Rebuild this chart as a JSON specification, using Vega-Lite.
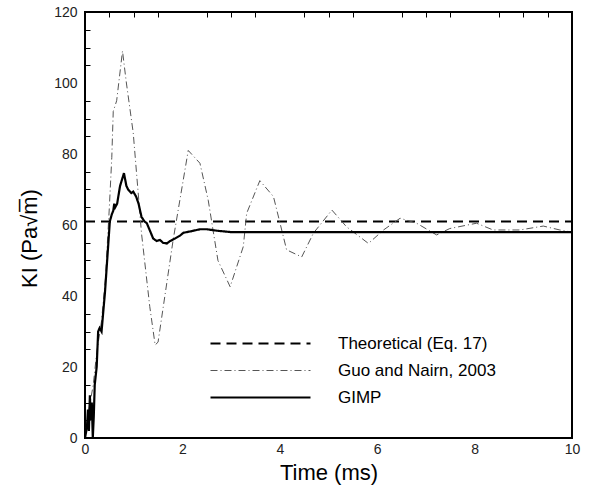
{
  "$schema": "https://vega.github.io/schema/vega-lite/v6.json",
  "autosize": "none",
  "width": 487,
  "height": 426,
  "padding": {"left": 85, "top": 12, "right": 23, "bottom": 53},
  "background": "white",
  "config": {
    "view": {"stroke": "black", "strokeWidth": 2},
    "font": "Liberation Sans",
    "axis": {"grid": true, "gridColor": "black", "gridOpacity": 1, "ticks": false, "zindex": 1, "domain": false, "labelColor": "#222", "labelFont": "Liberation Sans", "labelFontSize": 14, "titleFont": "Liberation Sans", "titleFontSize": 22, "titleFontWeight": "normal", "titleColor": "black", "labelFlush": false}
  },
  "data": {"values": [
    {"s": "Theoretical (Eq. 17)", "t": 0, "k": 61},
    {"s": "Theoretical (Eq. 17)", "t": 10, "k": 61},
    {"s": "Guo and Nairn, 2003", "t": 0, "k": 0},
    {"s": "Guo and Nairn, 2003", "t": 0.08, "k": 8},
    {"s": "Guo and Nairn, 2003", "t": 0.17, "k": 15},
    {"s": "Guo and Nairn, 2003", "t": 0.24, "k": 24},
    {"s": "Guo and Nairn, 2003", "t": 0.34, "k": 33},
    {"s": "Guo and Nairn, 2003", "t": 0.42, "k": 45},
    {"s": "Guo and Nairn, 2003", "t": 0.5, "k": 65},
    {"s": "Guo and Nairn, 2003", "t": 0.55, "k": 79},
    {"s": "Guo and Nairn, 2003", "t": 0.58, "k": 92},
    {"s": "Guo and Nairn, 2003", "t": 0.65, "k": 95},
    {"s": "Guo and Nairn, 2003", "t": 0.77, "k": 109},
    {"s": "Guo and Nairn, 2003", "t": 0.85, "k": 100},
    {"s": "Guo and Nairn, 2003", "t": 0.99, "k": 86},
    {"s": "Guo and Nairn, 2003", "t": 1.16, "k": 57.7},
    {"s": "Guo and Nairn, 2003", "t": 1.33, "k": 37},
    {"s": "Guo and Nairn, 2003", "t": 1.44, "k": 26.2},
    {"s": "Guo and Nairn, 2003", "t": 1.5, "k": 27},
    {"s": "Guo and Nairn, 2003", "t": 1.81, "k": 55.8},
    {"s": "Guo and Nairn, 2003", "t": 2.12, "k": 81},
    {"s": "Guo and Nairn, 2003", "t": 2.36, "k": 77.4},
    {"s": "Guo and Nairn, 2003", "t": 2.53, "k": 67},
    {"s": "Guo and Nairn, 2003", "t": 2.73, "k": 50},
    {"s": "Guo and Nairn, 2003", "t": 2.98, "k": 42.6},
    {"s": "Guo and Nairn, 2003", "t": 3.25, "k": 53.9},
    {"s": "Guo and Nairn, 2003", "t": 3.32, "k": 63.3},
    {"s": "Guo and Nairn, 2003", "t": 3.59, "k": 72.5},
    {"s": "Guo and Nairn, 2003", "t": 3.87, "k": 68},
    {"s": "Guo and Nairn, 2003", "t": 4.14, "k": 53},
    {"s": "Guo and Nairn, 2003", "t": 4.45, "k": 51},
    {"s": "Guo and Nairn, 2003", "t": 4.69, "k": 57.7},
    {"s": "Guo and Nairn, 2003", "t": 5.07, "k": 64.2},
    {"s": "Guo and Nairn, 2003", "t": 5.37, "k": 59.5},
    {"s": "Guo and Nairn, 2003", "t": 5.82, "k": 54.8},
    {"s": "Guo and Nairn, 2003", "t": 6.13, "k": 58.6},
    {"s": "Guo and Nairn, 2003", "t": 6.47, "k": 61.9},
    {"s": "Guo and Nairn, 2003", "t": 6.81, "k": 60.5},
    {"s": "Guo and Nairn, 2003", "t": 7.22, "k": 57.2},
    {"s": "Guo and Nairn, 2003", "t": 7.49, "k": 59},
    {"s": "Guo and Nairn, 2003", "t": 8.04, "k": 60.5},
    {"s": "Guo and Nairn, 2003", "t": 8.38, "k": 58.6},
    {"s": "Guo and Nairn, 2003", "t": 8.93, "k": 58.6},
    {"s": "Guo and Nairn, 2003", "t": 9.41, "k": 59.7},
    {"s": "Guo and Nairn, 2003", "t": 9.75, "k": 58.6},
    {"s": "Guo and Nairn, 2003", "t": 10, "k": 58},
    {"s": "GIMP", "t": 0, "k": 0},
    {"s": "GIMP", "t": 0.04, "k": 3},
    {"s": "GIMP", "t": 0.06, "k": 8},
    {"s": "GIMP", "t": 0.08, "k": 2},
    {"s": "GIMP", "t": 0.1, "k": 12},
    {"s": "GIMP", "t": 0.12, "k": 5},
    {"s": "GIMP", "t": 0.14, "k": 10},
    {"s": "GIMP", "t": 0.16, "k": 0},
    {"s": "GIMP", "t": 0.18, "k": 6},
    {"s": "GIMP", "t": 0.2, "k": 15},
    {"s": "GIMP", "t": 0.24, "k": 20},
    {"s": "GIMP", "t": 0.27, "k": 30},
    {"s": "GIMP", "t": 0.3, "k": 31},
    {"s": "GIMP", "t": 0.34, "k": 30},
    {"s": "GIMP", "t": 0.41, "k": 41},
    {"s": "GIMP", "t": 0.48, "k": 55},
    {"s": "GIMP", "t": 0.51, "k": 61},
    {"s": "GIMP", "t": 0.55, "k": 63},
    {"s": "GIMP", "t": 0.58, "k": 64},
    {"s": "GIMP", "t": 0.6, "k": 66},
    {"s": "GIMP", "t": 0.62, "k": 65},
    {"s": "GIMP", "t": 0.66, "k": 66},
    {"s": "GIMP", "t": 0.72, "k": 71},
    {"s": "GIMP", "t": 0.8, "k": 74.6},
    {"s": "GIMP", "t": 0.85, "k": 71},
    {"s": "GIMP", "t": 0.89, "k": 69.9},
    {"s": "GIMP", "t": 0.95, "k": 69},
    {"s": "GIMP", "t": 0.99, "k": 69.4},
    {"s": "GIMP", "t": 1.05, "k": 68},
    {"s": "GIMP", "t": 1.1, "k": 66},
    {"s": "GIMP", "t": 1.16, "k": 62.3},
    {"s": "GIMP", "t": 1.22, "k": 61},
    {"s": "GIMP", "t": 1.27, "k": 60.5},
    {"s": "GIMP", "t": 1.33, "k": 58.5},
    {"s": "GIMP", "t": 1.4, "k": 56.2},
    {"s": "GIMP", "t": 1.47, "k": 55.5},
    {"s": "GIMP", "t": 1.54, "k": 55.8},
    {"s": "GIMP", "t": 1.6, "k": 55},
    {"s": "GIMP", "t": 1.68, "k": 54.8},
    {"s": "GIMP", "t": 1.75, "k": 55.5},
    {"s": "GIMP", "t": 1.85, "k": 56.2},
    {"s": "GIMP", "t": 1.95, "k": 57},
    {"s": "GIMP", "t": 2.02, "k": 57.8},
    {"s": "GIMP", "t": 2.2, "k": 58.3},
    {"s": "GIMP", "t": 2.36, "k": 58.8},
    {"s": "GIMP", "t": 2.5, "k": 58.8},
    {"s": "GIMP", "t": 2.7, "k": 58.4},
    {"s": "GIMP", "t": 3.0, "k": 58},
    {"s": "GIMP", "t": 4, "k": 58},
    {"s": "GIMP", "t": 6, "k": 58},
    {"s": "GIMP", "t": 8, "k": 58},
    {"s": "GIMP", "t": 10, "k": 58}
  ]},
  "resolve": {"axis": {"x": "independent", "y": "independent"}},
  "layer": [
    {
      "mark": {"type": "point", "opacity": 0},
      "encoding": {
        "x": {"field": "t", "type": "quantitative", "scale": {"domain": [0, 10], "nice": false},
          "axis": {"orient": "bottom", "title": null, "labels": false, "values": [0.5,1,1.5,2.5,3,3.5,4.5,5,5.5,6.5,7,7.5,8.5,9,9.5], "gridDash": [5, 2000], "gridWidth": 1}},
        "y": {"field": "k", "type": "quantitative", "scale": {"domain": [0, 120], "nice": false},
          "axis": {"orient": "left", "title": null, "labels": false, "values": [5,10,15,25,30,35,45,50,55,65,70,75,85,90,95,105,110,115], "gridDash": [5, 2000], "gridWidth": 1}}
      }
    },
    {
      "mark": {"type": "line", "clip": true},
      "encoding": {
        "x": {"field": "t", "type": "quantitative", "scale": {"domain": [0, 10], "nice": false},
          "axis": {"orient": "bottom", "title": "Time (ms)", "format": "d", "values": [0,2,4,6,8,10], "gridDash": [9, 2000], "gridWidth": 2, "labelPadding": 4, "titlePadding": 6}},
        "y": {"field": "k", "type": "quantitative", "scale": {"domain": [0, 120], "nice": false},
          "axis": {"orient": "left", "title": "KI (Pa√m̅)", "format": "d", "values": [0,20,40,60,80,100,120], "gridDash": [9, 2000], "gridWidth": 2, "labelPadding": 8, "titlePadding": 12, "titleY": 226}},
        "color": {"field": "s", "type": "nominal",
          "scale": {"domain": ["Theoretical (Eq. 17)", "Guo and Nairn, 2003", "GIMP"], "range": ["black", "#555555", "black"]},
          "legend": {"title": null, "orient": "none", "legendX": 167, "legendY": 323, "symbolType": "M-10,0H10", "symbolSize": 100, "labelFontSize": 17, "labelFont": "Liberation Sans", "labelColor": "black", "labelOffset": 69, "rowPadding": 9}},
        "strokeDash": {"field": "s", "type": "nominal",
          "scale": {"domain": ["Theoretical (Eq. 17)", "Guo and Nairn, 2003", "GIMP"], "range": [[10, 6], [7, 3, 1, 3], [1, 0]]}},
        "strokeWidth": {"field": "s", "type": "nominal",
          "scale": {"type": "ordinal", "domain": ["Theoretical (Eq. 17)", "Guo and Nairn, 2003", "GIMP"], "range": [2, 1, 2.2]}},
        "order": {"field": "t", "type": "quantitative"}
      }
    }
  ]
}
